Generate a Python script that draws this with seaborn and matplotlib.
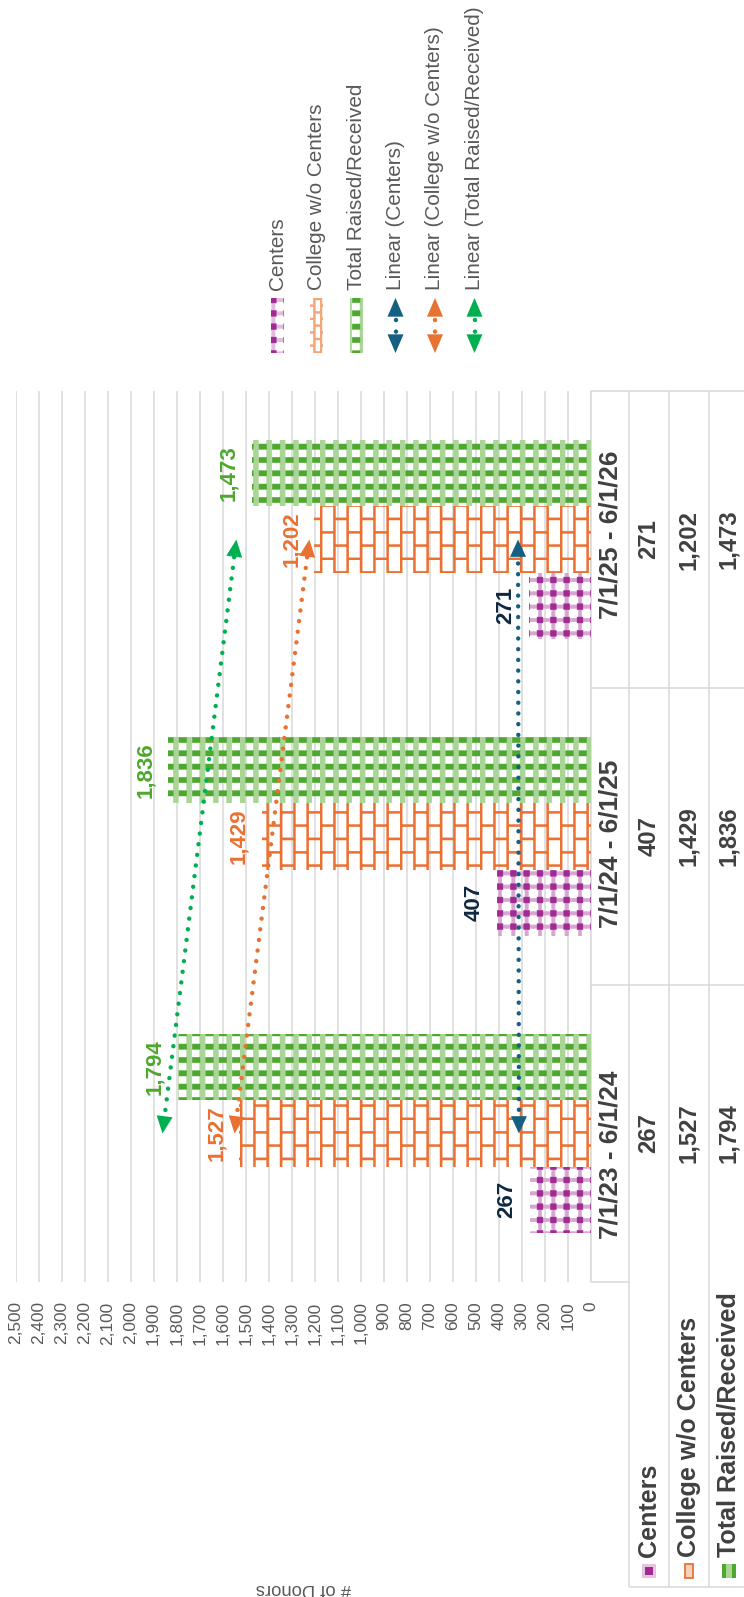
import warnings
import numpy as np
import pandas as pd
import matplotlib
matplotlib.use("Agg")
import matplotlib.pyplot as plt
import matplotlib.hatch as mhatch
import matplotlib.transforms as mtransforms
from matplotlib.patches import Rectangle
from matplotlib.path import Path
import seaborn as sns

warnings.filterwarnings("ignore", category=matplotlib.MatplotlibDeprecationWarning)

# ---------------------------------------------------------------- data
periods = ["7/1/23 - 6/1/24", "7/1/24 - 6/1/25", "7/1/25 - 6/1/26"]
series = ["Centers", "College w/o Centers", "Total Raised/Received"]
centers = [267, 407, 271]
college = [1527, 1429, 1202]
total = [1794, 1836, 1473]
value_ticks = list(range(0, 2501, 100))
trend_names = ["Linear (Centers)", "Linear (College w/o Centers)",
               "Linear (Total Raised/Received)"]
axis_title = "# of Donors"

# ---------------------------------------------------------------- colours
BAR_COL = ["#A02B93", "#E97132", "#4EA72E"]
LABEL_COL = ["#0E2841", "#E97132", "#4EA72E"]
TREND_COL = ["#156082", "#E97132", "#00B050"]
GRID = "#D9D9D9"
TEXT = "#404040"
SUBTLE = "#595959"


# ---------------------------------------------------------------- pattern fills
def _rect(x0, y0, x1, y1):
    v = [(x0, y0), (x1, y0), (x1, y1), (x0, y1), (x0, y0)]
    c = [Path.MOVETO, Path.LINETO, Path.LINETO, Path.LINETO, Path.CLOSEPOLY]
    return v, c


class TileHatch(mhatch.HatchPatternBase):
    """Hatch built from filled rectangles laid out on an n x n cell grid."""
    key = None

    def __init__(self, hatch, density):
        reps = hatch.count(self.key) if hatch else 0
        n = int(reps * density)
        verts, codes = [], []
        if n:
            for x0, y0, x1, y1 in self.cells(n):
                v, c = _rect(x0 / n, y0 / n, x1 / n, y1 / n)
                verts += v
                codes += c
        self._v = np.array(verts, float).reshape(-1, 2)
        self._c = np.array(codes, dtype=Path.code_type)
        self.num_vertices = len(self._v)

    def set_vertices_and_codes(self, vertices, codes):
        vertices[:] = self._v
        codes[:] = self._c


class BrickHatch(TileHatch):
    key = "b"

    def cells(self, n):
        w = 0.16
        out = []
        for i in range(n):
            out.append((i, 0, i + w, n))
            for j in range(n // 2):
                y = 2 * j + i % 2
                out.append((i + w, y, i + 1, y + w))
        return out


class FineBrickHatch(TileHatch):
    """Half-size bricks, used for the small legend key."""
    key = "k"

    def cells(self, n):
        m = 2 * n
        w = 0.3
        out = []
        for i in range(m):
            out.append((i / 2, 0, (i + w) / 2, n))
            for j in range(m // 2):
                y = 2 * j + i % 2
                out.append(((i + w) / 2, y / 2, (i + 1) / 2, (y + w) / 2))
        return out


class PlaidHatch(TileHatch):
    key = "p"

    def cells(self, n):
        t = 0.26
        a, b = 0.5 - t / 2, 0.5 + t / 2
        out = []
        for i in range(n):
            out.append((i + a, 0, i + b, n))
            for j in range(n):
                out.append((i + b, j + a, i + 1, j + b))
                out.append((i, j + a, i + a, j + b))
        return out


class DotHatch(TileHatch):
    key = "d"

    def cells(self, n):
        s = 0.44
        return [(i + 0.5 - s / 2, j + 0.5 - s / 2, i + 0.5 + s / 2, j + 0.5 + s / 2)
                for i in range(n) for j in range(n)]


class StripeHatch(TileHatch):
    key = "s"

    def cells(self, n):
        return [(i, 0, i + 0.38, n) for i in range(n)]


class DashHatch(TileHatch):
    key = "g"

    def cells(self, n):
        return [(i + 0.42, j + 0.3, i + 1.0, j + 0.7)
                for i in range(n) for j in range(n)]


mhatch._hatch_types.extend([BrickHatch, FineBrickHatch, PlaidHatch, DotHatch,
                            StripeHatch, DashHatch])

# pattern layers for each series: (hatch string, colour)
LAYERS = [
    [("p", "#D9A6D2"), ("d", "#A02B93")],
    [("b", "#E97132")],
    [("s", "#A9D597"), ("g", "#4EA72E")],
]
KEY_LAYERS = [
    [("p", "#E2BCDD"), ("d", "#A02B93")],
    [("k", "#F2A77A")],
    [("s", "#A9D597"), ("g", "#4EA72E")],
]

# ---------------------------------------------------------------- figure
W, H, DPI = 744, 1597, 80
sns.set_theme(style="white")
plt.rcParams["font.family"] = ["Liberation Sans", "DejaVu Sans"]
plt.rcParams["hatch.linewidth"] = 0.4

fig = plt.figure(figsize=(W / DPI, H / DPI), dpi=DPI)

PLOT_L, PLOT_R, PLOT_T, PLOT_B = 15.5, 591.0, 391.0, 1282.0
ax = fig.add_axes([PLOT_L / W, 1 - PLOT_B / H, (PLOT_R - PLOT_L) / W, (PLOT_B - PLOT_T) / H])
lay = fig.add_axes([0, 0, 1, 1])
lay.set_xlim(0, W)
lay.set_ylim(H, 0)
lay.axis("off")
lay.set_zorder(0)
ax.set_zorder(1)
ax.patch.set_visible(False)

df = pd.DataFrame({
    "period": periods * 3,
    "series": np.repeat(series, len(periods)),
    "donors": centers + college + total,
})

sns.barplot(data=df, x="donors", y="period", hue="series", order=periods,
            hue_order=series, orient="h", width=0.668, gap=0,
            palette=BAR_COL, saturation=1, errorbar=None, legend=False, ax=ax)

ax.set_ylim(-0.5, len(periods) - 0.5)
ax.set_xlim(value_ticks[-1], 0)
ax.set_xticks(value_ticks)
ax.set_xticklabels([f"{v:,}" for v in value_ticks])
ax.tick_params(axis="x", length=0, pad=17.5, labelrotation=90,
               labelsize=15.5, labelcolor=SUBTLE)
ax.tick_params(axis="y", left=False, labelleft=False)
ax.set_xlabel("")
ax.set_ylabel("")
ax.grid(axis="x", color=GRID, linewidth=1.4)
ax.grid(axis="y", visible=False)
ax.set_axisbelow(True)
for sp in ax.spines.values():
    sp.set_visible(False)

# patterned bars + value labels
for k, cont in enumerate(ax.containers):
    for bar in cont.patches:
        x0, y0 = bar.get_xy()
        w, h = bar.get_width(), bar.get_height()
        bar.set_facecolor("none")
        bar.set_edgecolor("none")
        for hatch, col in LAYERS[k]:
            ax.add_patch(Rectangle((x0, y0), w, h, fill=False, hatch=hatch,
                                   edgecolor=col, linewidth=0, zorder=2))
        ax.annotate(f"{int(round(w)):,}", xy=(w, y0 + h / 2),
                    xytext=(-20.7, 0), textcoords="offset points",
                    rotation=90, ha="center", va="center",
                    fontsize=20, fontweight="bold", color=LABEL_COL[k], zorder=4)

# linear trendlines with arrowheads at both ends
ARROW = "-|>,head_length=1.3,head_width=0.6"
pos = np.arange(len(periods))
for k, vals in enumerate([centers, college, total]):
    slope, icpt = np.polyfit(pos, vals, 1)
    ends_x = slope * pos[[0, -1]] + icpt
    ends_y = pos[[0, -1]].astype(float)
    p0 = ax.transData.transform((ends_x[0], ends_y[0]))
    p1 = ax.transData.transform((ends_x[1], ends_y[1]))
    frac = 13.0 / np.hypot(*(p1 - p0))
    lx = [ends_x[0] + frac * (ends_x[1] - ends_x[0]), ends_x[1] - frac * (ends_x[1] - ends_x[0])]
    ly = [ends_y[0] + frac * (ends_y[1] - ends_y[0]), ends_y[1] - frac * (ends_y[1] - ends_y[0])]
    ax.plot(lx, ly, color=TREND_COL[k], linewidth=4.0, linestyle=(0, (0.01, 2.4)),
            dash_capstyle="round", zorder=3)
    for a, b in [(0, 1), (1, 0)]:
        tip = (ends_x[a], ends_y[a])
        back = (ends_x[a] + 0.03 * (ends_x[b] - ends_x[a]), ends_y[a] + 0.03 * (ends_y[b] - ends_y[a]))
        ax.annotate("", xy=tip, xytext=back,
                    arrowprops=dict(arrowstyle=ARROW, color=TREND_COL[k], lw=0,
                                    shrinkA=0, shrinkB=0),
                    zorder=3)

# ---------------------------------------------------------------- data table
trans = mtransforms.blended_transform_factory(lay.transData, ax.transData)
COLS = [591.0, 629.0, 669.0, 709.0, 748.0]
ROW_BOTTOM = 1587.0
line_kw = dict(color=GRID, linewidth=1.4, solid_capstyle="butt")

lay.plot([COLS[0], COLS[0]], [PLOT_T, PLOT_B], **line_kw)
for c in COLS[1:]:
    lay.plot([c, c], [PLOT_T, ROW_BOTTOM], **line_kw)
lay.plot([COLS[0], W], [PLOT_T, PLOT_T], **line_kw)
lay.plot([COLS[0], COLS[1]], [PLOT_B, PLOT_B], **line_kw)
lay.plot([COLS[1], W], [ROW_BOTTOM, ROW_BOTTOM], **line_kw)
for b in pos[:-1] + 0.5:
    lay.plot([COLS[0], W], [b, b], transform=trans, **line_kw)

col_mid = [(COLS[i] + COLS[i + 1]) / 2 for i in range(4)]
# category captions sit slightly off their cell centres (downward shift, in points)
caption_shift = [-19.0, -7.0, 4.0]
for i, p in enumerate(periods):
    lay.annotate(p, xy=(col_mid[0], pos[i]), xycoords=trans,
                 xytext=(0, caption_shift[i]), textcoords="offset points",
                 rotation=90, ha="center", va="center", fontsize=23.5,
                 fontweight="bold", color=TEXT)
    for k, vals in enumerate([centers, college, total]):
        lay.text(col_mid[k + 1], pos[i], f"{vals[i]:,}", transform=trans, rotation=90,
                 ha="center", va="center", fontsize=21.5, fontweight="bold", color=TEXT)

# row headers with their small keys
for k, name in enumerate(series):
    xc = col_mid[k + 1]
    lay.text(xc, 1557, name, rotation=90, ha="center", va="bottom",
             fontsize=22.6, fontweight="bold", color=TEXT)
key_y = 1571
lay.add_patch(Rectangle((col_mid[1] - 7, key_y - 7), 14, 14, facecolor="#E6C3E1", edgecolor="none"))
lay.add_patch(Rectangle((col_mid[1] - 4, key_y - 4), 8, 8, facecolor="#A02B93", edgecolor="none"))
lay.add_patch(Rectangle((col_mid[2] - 4, key_y - 7), 8, 14, facecolor="#F6D3BE",
                        edgecolor="#E97132", linewidth=1.6))
lay.add_patch(Rectangle((col_mid[3] - 7, key_y - 7), 14, 14, facecolor="#4EA72E", edgecolor="none"))
lay.add_patch(Rectangle((col_mid[3] - 3, key_y - 7), 6, 14, facecolor="#A9D597", edgecolor="none"))

# value axis title
lay.text((PLOT_L + PLOT_R) / 2, 1588, axis_title, rotation=180, ha="center", va="center",
         fontsize=16.5, color=SUBTLE)

# ---------------------------------------------------------------- legend
LEG_X0, LEG_DX = 277.0, 39.5
KEY_TOP, KEY_BOT, TEXT_BOT = 298.0, 353.0, 290.0
LEG_ARROW = "-|>,head_length=1.4,head_width=0.6"
for k, name in enumerate(series):
    xc = LEG_X0 + k * LEG_DX
    for hatch, col in KEY_LAYERS[k]:
        lay.add_patch(Rectangle((xc - 6.5, KEY_TOP), 13, KEY_BOT - KEY_TOP, fill=False,
                                hatch=hatch, edgecolor=col, linewidth=0))
    lay.text(xc, TEXT_BOT, name, rotation=90, ha="center", va="bottom",
             fontsize=18.7, color=SUBTLE)
for k, name in enumerate(trend_names):
    xc = LEG_X0 + (k + 3) * LEG_DX
    lay.plot([xc, xc], [KEY_TOP + 22, KEY_BOT - 19], color=TREND_COL[k], linewidth=4.0,
             linestyle=(0, (0.01, 2.6)), dash_capstyle="round")
    lay.annotate("", xy=(xc, KEY_TOP), xytext=(xc, KEY_TOP + 6),
                 arrowprops=dict(arrowstyle=LEG_ARROW, color=TREND_COL[k], lw=0,
                                 shrinkA=0, shrinkB=0))
    lay.annotate("", xy=(xc, KEY_BOT), xytext=(xc, KEY_BOT - 6),
                 arrowprops=dict(arrowstyle=LEG_ARROW, color=TREND_COL[k], lw=0,
                                 shrinkA=0, shrinkB=0))
    lay.text(xc, TEXT_BOT, name, rotation=90, ha="center", va="bottom",
             fontsize=18.7, color=SUBTLE)

fig.savefig("out.png", dpi=DPI)
